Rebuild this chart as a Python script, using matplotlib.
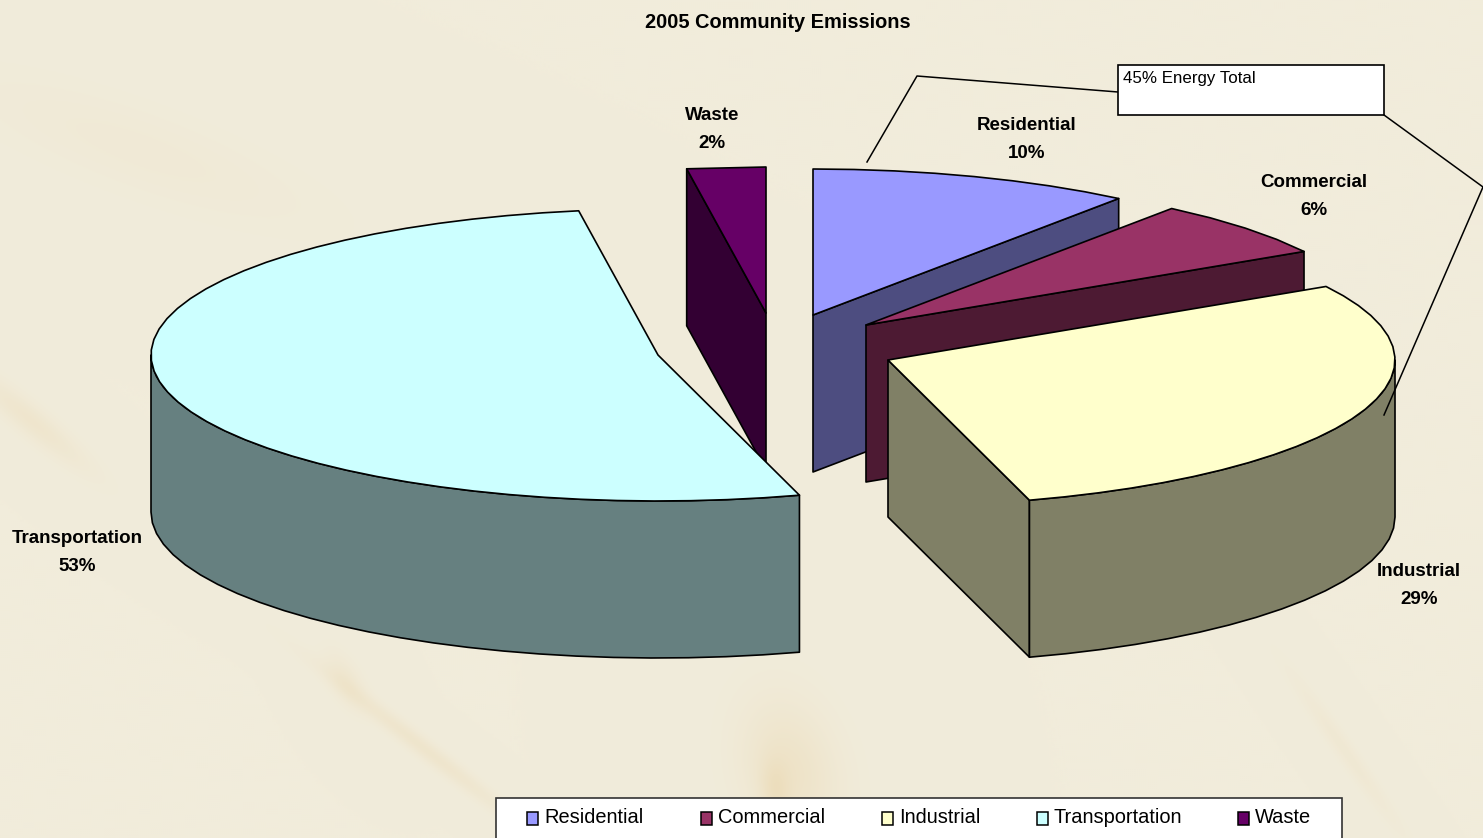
"""
2005 Community Emissions - exploded 3D pie drawn by hand on a pixel canvas.
"""

import numpy as np
import matplotlib
matplotlib.use("Agg")
import matplotlib.pyplot as plt
from matplotlib.patches import Polygon, Rectangle

plt.rcParams['font.family'] = ['Liberation Sans', 'DejaVu Sans']

W, H = 1483, 838

# Data
categories = ["Residential", "Commercial", "Industrial", "Transportation", "Waste"]
shares = [10.3, 6.3, 28.9, 52.0, 2.5]
share_labels = ["10%", "6%", "29%", "53%", "2%"]

# Styles and layout
top_colors = ["#9999FF", "#993366", "#FFFFCC", "#CCFFFF", "#660066"]
side_colors = ["#4D4D80", "#4D1A33", "#808066", "#668080", "#330033"]
centers = [(813, 315), (866, 325), (888, 360), (658, 355), (766, 313)]
label_pos = [(1027, 139.5), (1314, 196.5), (1419, 585.5), (77, 552.5), (712, 129.5)]
legend_x = [527, 701, 882, 1037, 1238]
RX, RY, DEPTH = 507, 146, 157


def arc(center, t1, t2):
    # points along the pie rim between two angles (degrees), coarse like the original
    n = max(int(abs(t2 - t1) / 4), 2)
    t = np.radians(np.linspace(t1, t2, n))
    return np.column_stack([center[0] + RX * np.cos(t), center[1] - RY * np.sin(t)])


def draw_slice(ax, idx, t1, t2, wall_angle=None):
    # clockwise from t1 to t2; wall_angle is the cut face that shows, if any
    c = centers[idx]
    edge = dict(edgecolor="black", linewidth=1.2, joinstyle="round")

    if wall_angle is not None:
        p = arc(c, wall_angle, wall_angle)[0]
        wall = [c, p, (p[0], p[1] + DEPTH), (c[0], c[1] + DEPTH)]
        ax.add_patch(Polygon(wall, closed=True, facecolor=side_colors[idx], **edge))

    # the part of the rim that faces the viewer (angles from -180 to 0)
    for k in (0, -360):
        a, b = max(t2, -180 + k), min(t1, k)
        if a < b:
            front = arc(c, b, a)
            rim = np.vstack([front, (front + [0, DEPTH])[::-1]])
            ax.add_patch(Polygon(rim, closed=True, facecolor=side_colors[idx], **edge))

    top = arc(c, t1, t2)
    ax.add_patch(Polygon(np.vstack([c, top]), closed=True, facecolor=top_colors[idx], **edge))


fig = plt.figure(figsize=(W / 100, H / 100), dpi=100)
ax = fig.add_axes([0, 0, 1, 1])

# Parchment background: base colour with a few soft warm streaks
# (x, y, half length, half width, angle, strength)
streaks = [
    (790, 770, 70, 45, 75, 0.30),
    (775, 790, 30, 14, 85, 0.25),
    (420, 745, 120, 9, 38, 0.24),
    (345, 680, 30, 14, 60, 0.18),
    (30, 420, 70, 14, 40, 0.22),
    (1345, 750, 90, 9, 55, 0.13),
    (140, 150, 180, 40, 20, 0.08),
]
yy, xx = np.mgrid[0:H:2, 0:W:2]
amount = np.zeros_like(xx, dtype=float)
for sx, sy, sl, sw, sa, ss in streaks:
    ca, sn = np.cos(np.radians(sa)), np.sin(np.radians(sa))
    u = (xx - sx) * ca + (yy - sy) * sn
    v = -(xx - sx) * sn + (yy - sy) * ca
    amount += ss * np.exp(-(u / sl) ** 2 - (v / sw) ** 2)
amount = np.clip(amount, 0, 1)[..., None]
base = np.array([0xF1, 0xEC, 0xDB]) / 255
warm = np.array([0xE8, 0xCF, 0x9E]) / 255
ax.imshow(base * (1 - amount) + warm * amount, extent=(0, W, H, 0), zorder=0, aspect="auto")
ax.set_xlim(0, W)
ax.set_ylim(H, 0)
ax.axis("off")

# Slice angles from the shares, clockwise from 12 o'clock
fracs = np.array(shares) / sum(shares) * 360
ends = 90 - np.cumsum(fracs)
starts = ends + fracs
draw_slice(ax, 4, starts[4], ends[4], wall_angle=starts[4])
draw_slice(ax, 3, starts[3], ends[3])
draw_slice(ax, 0, starts[0], ends[0], wall_angle=ends[0])
draw_slice(ax, 1, starts[1], ends[1], wall_angle=ends[1])
draw_slice(ax, 2, starts[2], ends[2], wall_angle=ends[2])

# Slice labels
for name, pct, (x, y) in zip(categories, share_labels, label_pos):
    ax.text(x, y, name + "\n" + pct, ha="center", va="center", fontsize=13.5,
            fontweight="bold", linespacing=1.85, color="black")

# Title
ax.text(778, 22, "2005 Community Emissions", ha="center", va="center", fontsize=14.4,
        fontweight="bold", color="black")

# Callout bracket and box
ax.plot([1118, 917, 867], [92, 76, 162], color="black", lw=1.1)
ax.plot([1384, 1483, 1384], [115, 187, 415], color="black", lw=1.1)
ax.add_patch(Rectangle((1118, 65), 266, 50, facecolor="white", edgecolor="black", lw=1.2, zorder=3))
ax.text(1123, 78, "45% Energy Total", ha="left", va="center", fontsize=12.2, color="black", zorder=4)

# Legend
ax.add_patch(Rectangle((496, 798), 846, 42, facecolor="white", edgecolor="#333333", lw=1.2, zorder=3))
for x, name, col in zip(legend_x, categories, top_colors):
    ax.add_patch(Rectangle((x, 812), 11, 13, facecolor=col, edgecolor="black", lw=1.1, zorder=4))
    ax.text(x + 17, 817, name, ha="left", va="center", fontsize=14.4, color="black", zorder=4)

fig.savefig("out.png", dpi=100)
